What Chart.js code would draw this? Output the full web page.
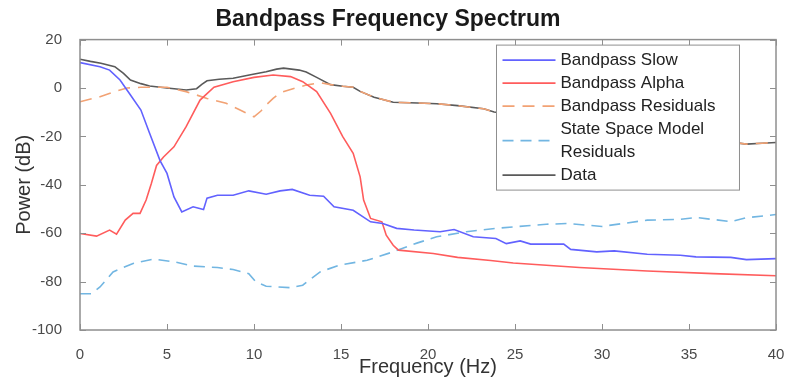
<!DOCTYPE html>
<html>
<head>
<meta charset="utf-8">
<title>Bandpass Frequency Spectrum</title>
<script src="https://cdn.jsdelivr.net/npm/chart.js@4.4.1/dist/chart.umd.min.js"></script>
<style>
    html, body { margin: 0; padding: 0; background: #fff; }
    #wrap { width: 786px; height: 384px; }
</style>
</head>
<body>
<div id="wrap"><canvas id="spectrum"></canvas></div>
<script>
// values (Hz / dB)
const slowHz = [0, 1.15, 1.7, 2.3, 2.9, 3.5, 4.0, 4.6, 5.0, 5.4, 5.85, 6.5, 7.1, 7.3, 7.9, 8.8, 9.7, 10.7, 11.5, 12.2, 13.2, 14.0, 14.6, 15.7, 16.7, 17.4, 18.2, 19.2, 20.7, 21.5, 22.6, 23.9, 24.5, 25.3, 25.9, 27.8, 28.2, 29.7, 30.7, 32.6, 34.5, 35.4, 37.4, 38.3, 40];
const slowDb = [10.5, 8.8, 7.4, 3.3, -2.9, -9.1, -18.7, -30, -35.3, -45, -51.2, -49.1, -50.2, -45.5, -44.3, -44.3, -42.5, -43.9, -42.5, -41.9, -44.3, -44.7, -49.1, -50.5, -55.3, -56, -58, -58.7, -59.4, -58.5, -61.5, -62.2, -64.3, -63.2, -64.5, -64.5, -66.7, -67.7, -67.3, -68.7, -69.1, -69.8, -70, -70.9, -70.5];

const alphaHz = [0, 0.95, 1.7, 2.1, 2.6, 3.05, 3.45, 3.8, 4.1, 4.4, 4.8, 5.4, 6.1, 6.9, 7.7, 8.8, 10.0, 11.1, 12.1, 12.8, 13.6, 14.4, 15.1, 15.7, 16.1, 16.3, 16.7, 17.35, 17.6, 18.0, 18.3, 20.3, 21.7, 23.6, 24.9, 28.7, 32.6, 36.4, 40];
const alphaDb = [-60.1, -61.2, -58.7, -60.4, -54.6, -51.8, -51.8, -46.3, -39.5, -32, -28.5, -24.3, -16, -5, 0.3, 2.6, 4.4, 5.4, 4.7, 2.6, -1.5, -10.5, -20.1, -27, -36.7, -46.3, -53.9, -55.3, -60.8, -65, -67, -68.4, -70, -71.3, -72.3, -74.2, -75.6, -76.7, -77.6];

const residHz = [0, 1.15, 2.0, 2.7, 3.5, 5.0, 6.1, 7.3, 8.4, 9.2, 10.0, 10.4, 10.7, 11.1, 11.5, 12.1, 13.0, 13.8, 14.4, 15.1, 15.7, 16.1, 16.9, 18.0, 19.4, 20.5, 21.7, 23.2, 23.8, 25, 27, 29, 31, 33, 35, 37, 38.3, 39.2, 40];
const residDb = [-5.7, -3.6, -1.5, 0, 0.3, 0.3, -1.5, -4.3, -6.3, -9.1, -11.9, -9.5, -7, -4.3, -2.0, -0.6, 1.2, 2.2, 1.4, 0.7, 0.3, -1.4, -3.8, -5.9, -6.2, -6.5, -7.3, -8.6, -9.9, -11, -13, -15, -17, -19, -20.5, -22, -23.2, -22.8, -22.5];

const ssmHz = [0, 0.67, 1.15, 1.9, 3.05, 4.2, 5.4, 6.5, 7.9, 8.8, 9.7, 10.1, 10.7, 12.1, 12.8, 13.8, 14.9, 16.5, 18.0, 19.4, 20.5, 22.2, 23.9, 24.9, 26.8, 28.0, 30.0, 32.6, 34.5, 35.4, 37.4, 38.3, 40];
const ssmDb = [-85, -85, -82.2, -76, -72.5, -70.7, -71.8, -73.6, -74.2, -75, -76.7, -80.1, -81.9, -82.5, -81.5, -76, -73.2, -71.2, -67.7, -64, -61.5, -59.4, -58, -57.4, -56.3, -56, -57.2, -54.6, -54.3, -53.5, -55.2, -53.6, -52.3];

const dataHz = [0, 0.6, 1.2, 2.0, 2.5, 2.9, 3.5, 4.0, 5.0, 6.1, 6.7, 7.0, 7.3, 8.0, 8.8, 9.8, 10.7, 11.3, 11.7, 12.6, 13.0, 13.6, 14.4, 15.1, 15.7, 16.1, 16.9, 18.0, 19.4, 20.5, 21.7, 23.2, 23.8, 25, 27, 29, 31, 33, 35, 37, 38.3, 39.2, 40];
const dataDb = [11.9, 11.0, 10.2, 8.8, 6.0, 3.3, 1.8, 0.8, 0, -0.8, -0.3, 1.5, 3, 3.6, 4, 5.5, 6.7, 7.8, 8.2, 7.4, 6.6, 4.4, 1.4, 0.7, 0.3, -1.4, -3.8, -5.9, -6.2, -6.5, -7.3, -8.6, -9.9, -11, -13, -15, -17, -19, -20.5, -22, -23.2, -22.8, -22.5];

const xTicks = [0, 5, 10, 15, 20, 25, 30, 35, 40];
const yTicks = [-100, -80, -60, -40, -20, 0, 20];

const FONT = "'Liberation Sans', Arial, Helvetica, sans-serif";

function pts(hz, db) {
    return hz.map(function (f, i) { return { x: f, y: db[i] }; });
}

// matlab style box with inward ticks + legend drawn inside the axes
const matlabFrame = {
    id: "matlabFrame",
    afterDatasetsDraw(chart) {
        const ctx = chart.ctx;
        const a = chart.chartArea;
        const sx = chart.scales.x;
        const sy = chart.scales.y;
        ctx.save();
        ctx.strokeStyle = "#8f8f8f";
        ctx.lineWidth = 1.5;
        ctx.strokeRect(a.left, a.top, a.right - a.left, a.bottom - a.top);
        ctx.lineWidth = 1;
        ctx.beginPath();
        xTicks.forEach(function (v) {
            const px = Math.round(sx.getPixelForValue(v)) + 0.5;
            ctx.moveTo(px, a.bottom); ctx.lineTo(px, a.bottom - 6);
            ctx.moveTo(px, a.top); ctx.lineTo(px, a.top + 6);
        });
        yTicks.forEach(function (v) {
            const py = Math.round(sy.getPixelForValue(v)) + 0.5;
            ctx.moveTo(a.left, py); ctx.lineTo(a.left + 6, py);
            ctx.moveTo(a.right, py); ctx.lineTo(a.right - 6, py);
        });
        ctx.stroke();

        // legend
        ctx.font = "17px " + FONT;
        const maxW = 170;
        const rows = [];
        chart.data.datasets.forEach(function (ds) {
            const words = ds.label.split(" ");
            const lines = [];
            let cur = "";
            words.forEach(function (w) {
                const t = cur ? cur + " " + w : w;
                if (ctx.measureText(t).width > maxW && cur) {
                    lines.push(cur);
                    cur = w;
                } else {
                    cur = t;
                }
            });
            lines.push(cur);
            rows.push({ ds: ds, lines: lines });
        });
        const rowH = 23;
        let nLines = 0;
        let textW = 0;
        rows.forEach(function (r) {
            nLines += r.lines.length;
            r.lines.forEach(function (l) { textW = Math.max(textW, ctx.measureText(l).width); });
        });
        const boxW = 6 + 53 + 5 + textW + 24;
        const boxH = nLines * rowH + 7;
        const bx = Math.round(a.right - 37 - boxW) + 0.5;
        const by = a.top + 5.5;
        ctx.fillStyle = "#fff";
        ctx.fillRect(bx, by, boxW, boxH);
        ctx.strokeStyle = "#8f8f8f";
        ctx.lineWidth = 1;
        ctx.strokeRect(bx, by, boxW, boxH);

        let cy = by + 15;
        rows.forEach(function (r) {
            const mid = cy + (r.lines.length - 1) * rowH / 2;
            ctx.strokeStyle = r.ds.borderColor;
            ctx.lineWidth = r.ds.borderWidth;
            ctx.setLineDash(r.ds.borderDash || []);
            ctx.beginPath();
            ctx.moveTo(bx + 6, mid);
            ctx.lineTo(bx + 59, mid);
            ctx.stroke();
            ctx.setLineDash([]);
            ctx.fillStyle = "#222";
            ctx.textBaseline = "middle";
            ctx.textAlign = "left";
            r.lines.forEach(function (l, i) {
                ctx.fillText(l, bx + 64, cy + i * rowH);
            });
            cy += r.lines.length * rowH;
        });
        ctx.restore();
    },
};

const chart = new Chart(document.getElementById("spectrum"), {
    type: "line",
    data: {
        datasets: [
            { label: "Bandpass Slow", data: pts(slowHz, slowDb), borderColor: "#6262ff", borderWidth: 1.6 },
            { label: "Bandpass Alpha", data: pts(alphaHz, alphaDb), borderColor: "#ff5c5c", borderWidth: 1.6 },
            { label: "Bandpass Residuals", data: pts(residHz, residDb), borderColor: "#f2a274", borderWidth: 1.6, borderDash: [12, 8] },
            { label: "State Space Model Residuals", data: pts(ssmHz, ssmDb), borderColor: "#72b6e2", borderWidth: 1.6, borderDash: [11, 7] },
            { label: "Data", data: pts(dataHz, dataDb), borderColor: "#5a5a5a", borderWidth: 1.6 },
        ],
    },
    options: {
        responsive: true,
        maintainAspectRatio: false,
        animation: false,
        elements: { point: { radius: 0 }, line: { tension: 0 } },
        layout: { padding: { left: 0, right: 10, top: 0, bottom: 0 } },
        plugins: {
            legend: { display: false },
            tooltip: { enabled: false },
            title: {
                display: true,
                text: "Bandpass Frequency Spectrum",
                color: "#1a1a1a",
                font: { family: FONT, size: 23, weight: "bold" },
                padding: { top: 6, bottom: 6 },
            },
        },
        scales: {
            x: {
                type: "linear",
                min: 0,
                max: 40,
                grid: { display: false },
                border: { display: false },
                ticks: { stepSize: 5, color: "#4a4a4a", padding: 8, maxRotation: 0, font: { family: FONT, size: 15 } },
                title: { display: true, text: "Frequency (Hz)", color: "#333", font: { family: FONT, size: 20 }, padding: { top: 0, bottom: 5 } },
                afterFit: function (s) {
                    s.height = 54;
                    s.paddingLeft = 0;
                    s.paddingRight = 0;
                },
            },
            y: {
                min: -100,
                max: 20,
                grid: { display: false },
                border: { display: false },
                ticks: { stepSize: 20, color: "#4a4a4a", padding: 10, font: { family: FONT, size: 15 } },
                title: { display: true, text: "Power (dB)", color: "#333", font: { family: FONT, size: 20 }, padding: { top: 12, bottom: 0 } },
                afterFit: function (s) { s.width = 80; },
            },
        },
    },
    plugins: [matlabFrame],
});
</script>
</body>
</html>
